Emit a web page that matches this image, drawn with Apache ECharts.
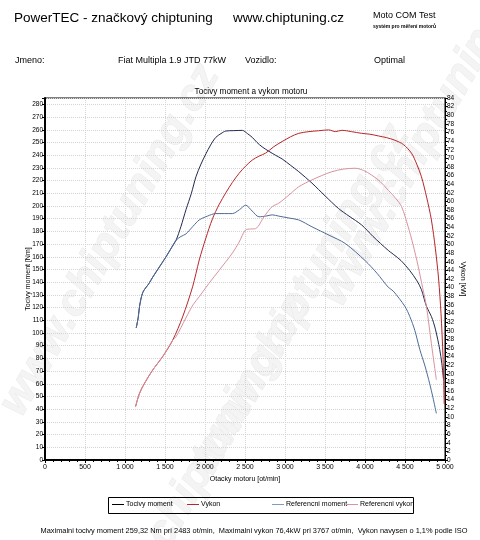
<!DOCTYPE html>
<html lang="cs">
<head>
<meta charset="UTF-8">
<title>Tocivy moment a vykon motoru</title>
<script src="https://cdn.jsdelivr.net/npm/echarts@6.0.0/dist/echarts.min.js"></script>
<style>
  html, body { margin: 0; padding: 0; background: #fff; }
  #chart { width: 480px; height: 540px; }
</style>
</head>
<body>
<div id="chart"></div>
<script>
// data
var torqueRpm = [1140, 1165, 1182, 1223, 1300, 1347, 1430, 1513, 1580, 1638, 1700, 1762, 1830, 1887, 1950, 2011, 2070, 2135, 2200, 2260, 2360, 2467, 2530, 2591, 2650, 2715, 2800, 2880, 2964, 3070, 3172, 3337, 3500, 3669, 3800, 3959, 4100, 4291, 4353, 4450, 4561, 4650, 4706, 4768, 4830, 4880, 4934, 4960, 4980];
var torqueNm = [104, 112, 121, 132, 139, 144, 152, 160, 167, 173, 184, 197, 210, 223, 233, 241, 248, 254, 257, 259, 259.3, 259.5, 257, 254, 250, 246.5, 243, 240, 237, 232, 227, 218, 208, 198, 192, 185, 176, 165, 162, 157, 149, 141, 134, 121, 113, 103, 87, 76, 64];

var powerRpm = [1132, 1182, 1244, 1347, 1471, 1596, 1720, 1845, 1928, 2011, 2094, 2177, 2260, 2342, 2425, 2508, 2591, 2674, 2757, 2860, 2964, 3070, 3172, 3300, 3420, 3545, 3630, 3711, 3767, 3830, 3959, 4060, 4167, 4270, 4374, 4480, 4581, 4650, 4706, 4770, 4830, 4880, 4920, 4950, 4975, 4990];
var powerKw = [12.4, 15.5, 17.8, 20.9, 24, 27.8, 33.2, 40.2, 46.4, 51.5, 56, 59.3, 62, 64.4, 66.5, 68.2, 69.6, 70.5, 71.2, 72.7, 73.9, 75, 75.8, 76.2, 76.4, 76.6, 76.2, 76.5, 76.4, 76.2, 75.8, 75.6, 75.2, 74.8, 74.2, 73.2, 71.2, 68.5, 65.7, 61, 55.7, 49, 42, 34, 24, 13];

var refTorqueRpm = [1140, 1165, 1182, 1223, 1300, 1347, 1430, 1513, 1580, 1638, 1700, 1762, 1850, 1928, 2030, 2135, 2240, 2342, 2430, 2508, 2590, 2674, 2760, 2840, 2923, 3050, 3172, 3337, 3550, 3752, 4001, 4150, 4291, 4353, 4498, 4560, 4623, 4685, 4750, 4809, 4850, 4892];
var refTorqueNm = [104, 112, 121, 132, 139, 144, 152, 160, 167, 173, 176, 178, 184, 189, 192, 194, 194, 194, 197, 200.6, 196, 191.5, 192, 193, 192, 190.5, 189, 183.6, 177, 170.5, 157, 147, 136, 133, 121, 113, 102, 87, 74, 60, 49, 36.7];

var refPowerRpm = [1132, 1182, 1244, 1347, 1471, 1596, 1638, 1762, 1850, 1928, 2050, 2176, 2260, 2342, 2425, 2508, 2570, 2633, 2740, 2840, 2923, 3050, 3172, 3337, 3460, 3586, 3730, 3876, 3980, 4084, 4190, 4291, 4380, 4457, 4540, 4600, 4664, 4720, 4768, 4830, 4892];
var refPowerKw = [12.4, 15.5, 17.8, 20.9, 24, 27.8, 28.6, 33, 36, 37.9, 41, 44, 46, 48, 50.5, 53.4, 53.6, 53.7, 56.5, 58.8, 59.6, 61.5, 63.4, 65, 66, 66.9, 67.5, 67.7, 67.2, 66.1, 64.6, 62.6, 60.8, 58.8, 54.1, 50, 45, 40, 35.6, 27, 18.6];

var seriesNames = ['Tocivy moment', 'Vykon', 'Referencni moment', 'Referencni vykon'];
var seriesColors = ['#1f2a52', '#b8262a', '#4e6c98', '#d9939c'];
var legendColors = ['#000000', '#b8262a', '#7f9cbc', '#e08f9c'];

function pairs(xs, ys) {
  return xs.map(function (x, i) { return [x, ys[i]]; });
}

var font = '"Liberation Sans", Arial, sans-serif';

var chart = echarts.init(document.getElementById('chart'), null, { renderer: 'canvas' });

// big faint diagonal watermark
var marks = [[110, 240], [300, 300], [200, 470], [430, 130]].map(function (p) {
  return {
    type: 'text', x: p[0], y: p[1], rotation: Math.PI / 3, z: -10,
    style: {
      text: 'www.chiptuning.cz', font: 'italic bold 44px ' + font,
      fill: '#f4f4f4', stroke: '#e9e9e9', lineWidth: 1,
      align: 'center', verticalAlign: 'middle'
    }
  };
});

var legendLeft = [112, 187, 272, 346];

var option = {
  backgroundColor: '#fff',
  animation: false,
  textStyle: { fontFamily: font },
  title: {
    text: 'Tocivy moment a vykon motoru',
    left: 246, top: 83, textAlign: 'center',
    textStyle: { fontSize: 8.2, fontWeight: 'normal', color: '#000', fontFamily: font }
  },
  legend: seriesNames.map(function (n, i) {
    return {
      data: [{ name: n, itemStyle: { color: legendColors[i] } }],
      left: legendLeft[i], top: 501,
      icon: 'rect', itemWidth: 12, itemHeight: 1, itemGap: 0,
      textStyle: { fontSize: 7, color: '#000', padding: [0, 0, 0, -3] },
      padding: 0
    };
  }),
  graphic: marks.concat([
    { type: 'text', x: 14, y: 18, style: { text: 'PowerTEC - značkový chiptuning', font: '13.5px ' + font, fill: '#000', verticalAlign: 'middle' } },
    { type: 'text', x: 233, y: 18, style: { text: 'www.chiptuning.cz', font: '13.5px ' + font, fill: '#000', verticalAlign: 'middle' } },
    { type: 'text', x: 373, y: 16, style: { text: 'Moto COM Test', font: '9px ' + font, fill: '#000', verticalAlign: 'middle' } },
    { type: 'text', x: 373, y: 27, style: { text: 'systém pro měření motorů', font: 'bold 5px ' + font, fill: '#000', verticalAlign: 'middle' } },
    { type: 'text', x: 15, y: 61, style: { text: 'Jmeno:', font: '9px ' + font, fill: '#000', verticalAlign: 'middle' } },
    { type: 'text', x: 118, y: 61, style: { text: 'Fiat Multipla 1.9 JTD 77kW', font: '9px ' + font, fill: '#000', verticalAlign: 'middle' } },
    { type: 'text', x: 245, y: 61, style: { text: 'Vozidlo:', font: '9px ' + font, fill: '#000', verticalAlign: 'middle' } },
    { type: 'text', x: 374, y: 61, style: { text: 'Optimal', font: '9px ' + font, fill: '#000', verticalAlign: 'middle' } },
    { type: 'rect', shape: { x: 108.5, y: 497.5, width: 305, height: 16 }, style: { fill: 'none', stroke: '#000', lineWidth: 1 } },
    { type: 'text', x: 254, y: 531, style: { text: 'Maximalni tocivy moment 259,32 Nm pri 2483 ot/min,  Maximalni vykon 76,4kW pri 3767 ot/min,  Vykon navysen o 1,1% podle ISO', font: '7.4px ' + font, fill: '#000', align: 'center', verticalAlign: 'middle' } }
  ]),
  grid: {
    left: 45, right: 35, top: 98, bottom: 80,
    show: true, borderColor: '#000', borderWidth: 1, backgroundColor: 'transparent'
  },
  xAxis: {
    type: 'value', min: 0, max: 5000, interval: 500,
    name: 'Otacky motoru [ot/min]', nameLocation: 'middle', nameGap: 14,
    nameTextStyle: { fontSize: 7, color: '#000' },
    axisLine: { lineStyle: { color: '#000', width: 2 } },
    axisTick: { length: 3, lineStyle: { color: '#000' } },
    minorTick: { show: true, splitNumber: 5, length: 2, lineStyle: { color: '#000' } },
    axisLabel: {
      fontSize: 7, color: '#000', margin: 4,
      formatter: function (v) { return String(v).replace(/\B(?=(\d{3})+(?!\d))/g, ' '); }
    },
    splitLine: { show: true, lineStyle: { color: '#d4d4d4', type: 'dotted' } }
  },
  yAxis: [
    {
      type: 'value', min: 0, max: 285, interval: 10,
      name: 'Tocivy moment [Nm]', nameLocation: 'middle', nameGap: 13, nameMoveOverlap: false,
      nameTextStyle: { fontSize: 7, color: '#000' },
      axisLine: { show: true, lineStyle: { color: '#000', width: 2 } },
      axisTick: { show: true, length: 3, lineStyle: { color: '#000' } },
      axisLabel: {
        fontSize: 6.5, color: '#000', margin: 2,
        formatter: function (v) { return v % 10 === 0 ? String(v) : ''; }
      },
      splitLine: { show: true, lineStyle: { color: '#d4d4d4', type: 'dotted' } }
    },
    {
      type: 'value', min: 0, max: 84, interval: 2, position: 'right',
      name: 'Vykon [kW]', nameLocation: 'middle', nameGap: 14, nameRotate: -90, nameMoveOverlap: false,
      nameTextStyle: { fontSize: 7, color: '#000' },
      axisLine: { show: true, lineStyle: { color: '#000', width: 1 } },
      axisTick: { show: true, length: 3, lineStyle: { color: '#000' } },
      minorTick: { show: true, splitNumber: 2, length: 2, lineStyle: { color: '#000' } },
      axisLabel: { fontSize: 6.5, color: '#000', margin: 2 },
      splitLine: { show: false }
    }
  ],
  series: [
    { name: seriesNames[0], type: 'line', yAxisIndex: 0, data: pairs(torqueRpm, torqueNm) },
    { name: seriesNames[1], type: 'line', yAxisIndex: 1, data: pairs(powerRpm, powerKw) },
    { name: seriesNames[2], type: 'line', yAxisIndex: 0, data: pairs(refTorqueRpm, refTorqueNm) },
    { name: seriesNames[3], type: 'line', yAxisIndex: 1, data: pairs(refPowerRpm, refPowerKw) }
  ].map(function (s, i) {
    s.symbol = 'none';
    s.smooth = 0.3;
    s.color = seriesColors[i];
    s.lineStyle = { width: 1, color: seriesColors[i] };
    s.z = 3;
    return s;
  })
};

chart.setOption(option);
</script>
</body>
</html>
